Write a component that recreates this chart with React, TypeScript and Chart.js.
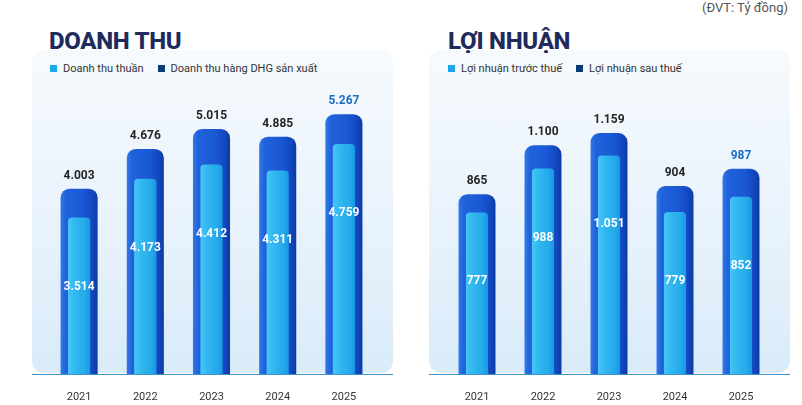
import { useEffect, useRef } from "react";
import Chart from "chart.js/auto";

const years = ["2021", "2022", "2023", "2024", "2025"];

// doanh thu (tỷ đồng)
const doanhThuThuan = [4003, 4676, 5015, 4885, 5267];
const doanhThuDHG = [3514, 4173, 4412, 4311, 4759];

// lợi nhuận (tỷ đồng)
const loiNhuanTruocThue = [865, 1100, 1159, 904, 987];
const loiNhuanSauThue = [777, 988, 1051, 779, 852];

const FONT = "Roboto, 'Noto Sans', sans-serif";
const OUTER_PCT = 0.56;
const INNER_PCT = 0.335;

const fmt = (v: number) => String(v).replace(/\B(?=(\d{3})+(?!\d))/g, ".");

const outerStops: [number, string][] = [
  [0, "#3179e8"],
  [0.14, "#2162dc"],
  [0.6, "#1a58d4"],
  [0.85, "#1248c0"],
  [1, "#0b3aa4"],
];
const innerStops: [number, string][] = [
  [0, "#45c6f6"],
  [0.3, "#33b8f1"],
  [0.75, "#25aaeb"],
  [1, "#1a98e2"],
];

// horizontal gradient per bar, from the x scale
const barFill = (stops: [number, string][], pct: number, fallback: string) => (c: any) => {
  const chart = c.chart;
  const x = chart.scales?.x;
  if (!x || c.dataIndex == null) return fallback;
  const cx = x.getPixelForValue(c.dataIndex);
  const w = (x.width / chart.data.labels.length) * pct;
  if (!isFinite(cx) || !isFinite(w) || w <= 0) return fallback;
  const g = chart.ctx.createLinearGradient(cx - w / 2, 0, cx + w / 2, 0);
  stops.forEach(([o, col]) => g.addColorStop(o, col));
  return g;
};

const valueLabels = {
  id: "valueLabels",
  afterDatasetsDraw(chart: any) {
    const ctx = chart.ctx;
    ctx.save();
    ctx.textAlign = "center";
    ctx.textBaseline = "middle";
    ctx.font = `bold 12px ${FONT}`;
    const outer = chart.getDatasetMeta(0);
    outer.data.forEach((el: any, i: number) => {
      const last = i === outer.data.length - 1;
      ctx.fillStyle = last ? "#1d6cc4" : "#262626";
      ctx.fillText(fmt(chart.data.datasets[0].data[i]), el.x, el.y - 13);
    });
    const inner = chart.getDatasetMeta(1);
    ctx.fillStyle = "#ffffff";
    inner.data.forEach((el: any, i: number) => {
      ctx.fillText(fmt(chart.data.datasets[1].data[i]), el.x, el.y + 69);
    });
    ctx.restore();
  },
  afterDraw(chart: any) {
    const ctx = chart.ctx;
    const y = chart.chartArea.bottom + 0.5;
    ctx.save();
    ctx.strokeStyle = "#3a92c8";
    ctx.lineWidth = 1.2;
    ctx.beginPath();
    ctx.moveTo(0, y);
    ctx.lineTo(chart.width, y);
    ctx.stroke();
    ctx.restore();
  },
};

type PanelProps = {
  outerLabel: string;
  innerLabel: string;
  outerData: number[];
  innerData: number[];
  min: number;
  max: number;
  padLeft: number;
};

function BarPanel({ outerLabel, innerLabel, outerData, innerData, min, max, padLeft }: PanelProps) {
  const canvasRef = useRef<HTMLCanvasElement | null>(null);

  useEffect(() => {
    if (!canvasRef.current) return;
    const chart = new Chart(canvasRef.current, {
      type: "bar",
      data: {
        labels: years,
        datasets: [
          {
            label: outerLabel,
            data: outerData,
            order: 2,
            grouped: false,
            barPercentage: OUTER_PCT,
            categoryPercentage: 1,
            borderRadius: { topLeft: 9, topRight: 9 },
            backgroundColor: barFill(outerStops, OUTER_PCT, "#1a58d4"),
          },
          {
            label: innerLabel,
            data: innerData,
            order: 1,
            grouped: false,
            barPercentage: INNER_PCT,
            categoryPercentage: 1,
            borderRadius: { topLeft: 4, topRight: 4 },
            backgroundColor: barFill(innerStops, INNER_PCT, "#2db3ee"),
          },
        ],
      },
      options: {
        responsive: false,
        animation: false,
        layout: { padding: { top: 10, left: padLeft, right: 16, bottom: 0 } },
        plugins: {
          legend: { display: false },
          title: { display: false },
          tooltip: { enabled: false },
        },
        scales: {
          x: {
            grid: { display: false },
            border: { display: false },
            ticks: { color: "#333333", font: { family: FONT, size: 11 }, padding: 9 },
            afterFit: (scale: any) => {
              scale.height = 31;
            },
          },
          y: { display: false, min, max },
        },
      },
      plugins: [valueLabels],
    });

    return () => chart.destroy();
  }, []);

  return <canvas ref={canvasRef} width={361} height={355} style={{ width: 361, height: 355, display: "block" }} />;
}

const legendItem = (color: string, text: string) => (
  <div style={{ display: "flex", alignItems: "center", marginRight: 14 }}>
    <span style={{ width: 7, height: 7, background: color, marginRight: 6, display: "inline-block" }} />
    <span>{text}</span>
  </div>
);

const panelBg = "linear-gradient(to bottom, #f6fafd 0%, #ebf4fc 45%, #d9ebf9 100%)";

export default function App() {
  const titleStyle: React.CSSProperties = {
    position: "absolute",
    top: 29,
    fontFamily: FONT,
    fontWeight: 800,
    fontSize: 24,
    lineHeight: "24px",
    color: "#1e2b5c",
    letterSpacing: -0.3,
    whiteSpace: "nowrap",
  };
  const legendStyle: React.CSSProperties = {
    position: "absolute",
    top: 62,
    display: "flex",
    fontFamily: FONT,
    fontSize: 11,
    lineHeight: "13px",
    color: "#333333",
    whiteSpace: "nowrap",
  };
  const panelStyle: React.CSSProperties = {
    position: "absolute",
    top: 50,
    width: 361,
    height: 323,
    borderRadius: 12,
    background: panelBg,
  };

  return (
    <div style={{ position: "fixed", left: 0, top: 0, width: 802, height: 405, background: "#ffffff", overflow: "hidden" }}>
      <div
        style={{
          position: "absolute",
          right: 14,
          top: 0,
          fontFamily: FONT,
          fontSize: 13,
          lineHeight: "16px",
          color: "#555555",
        }}
      >
        (ĐVT: Tỷ đồng)
      </div>

      <div style={{ ...panelStyle, left: 32 }} />
      <div style={{ ...panelStyle, left: 429 }} />

      <div style={{ ...titleStyle, left: 49 }}>DOANH THU</div>
      <div style={{ ...titleStyle, left: 448 }}>LỢI NHUẬN</div>

      <div style={{ ...legendStyle, left: 50 }}>
        {legendItem("#1ba8e9", "Doanh thu thuần")}
        {legendItem("#0b3b74", "Doanh thu hàng DHG sản xuất")}
      </div>
      <div style={{ ...legendStyle, left: 448 }}>
        {legendItem("#1ba8e9", "Lợi nhuận trước thuế")}
        {legendItem("#0b3b74", "Lợi nhuận sau thuế")}
      </div>

      <div style={{ position: "absolute", left: 32, top: 50 }}>
        <BarPanel
          outerLabel="Doanh thu thuần"
          innerLabel="Doanh thu hàng DHG sản xuất"
          outerData={doanhThuThuan}
          innerData={doanhThuDHG}
          min={860}
          max={6185}
          padLeft={14}
        />
      </div>
      <div style={{ position: "absolute", left: 429, top: 50 }}>
        <BarPanel
          outerLabel="Lợi nhuận trước thuế"
          innerLabel="Lợi nhuận sau thuế"
          outerData={loiNhuanTruocThue}
          innerData={loiNhuanSauThue}
          min={0}
          max={1510}
          padLeft={15}
        />
      </div>
    </div>
  );
}
